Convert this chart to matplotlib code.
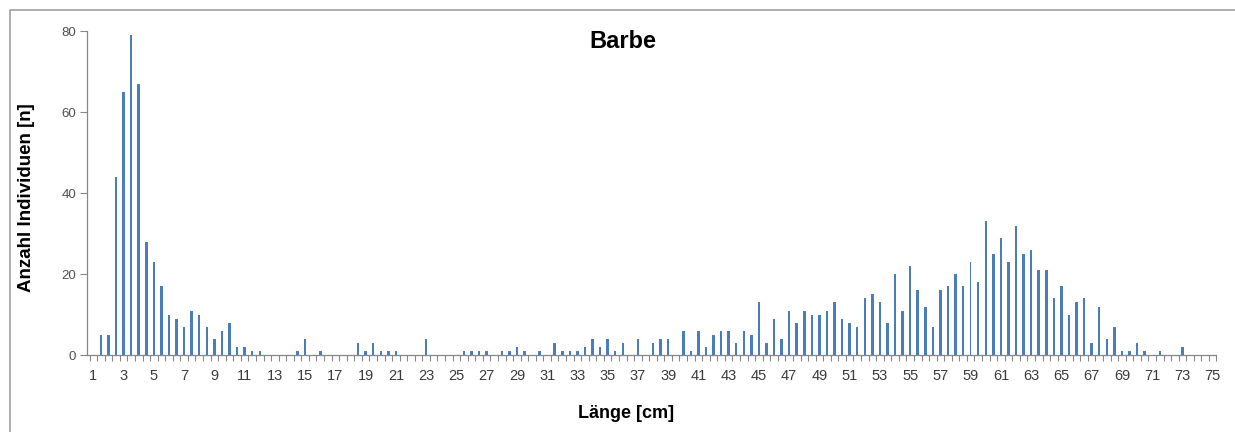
import numpy as np
import matplotlib.pyplot as plt
from matplotlib.patches import Rectangle

# Length classes (cm, half-cm steps) that have at least one fish, and the counts
length_cm = [1.5, 2, 2.5, 3, 3.5, 4, 4.5, 5, 5.5, 6, 6.5, 7, 7.5, 8, 8.5, 9, 9.5, 10,
             10.5, 11, 11.5, 12,
             14.5, 15, 16,
             18.5, 19, 19.5, 20, 20.5, 21,
             23,
             25.5, 26, 26.5, 27, 28, 28.5, 29, 29.5, 30.5, 31.5, 32, 32.5, 33, 33.5,
             34, 34.5, 35, 35.5, 36, 37, 38, 38.5, 39, 40, 40.5, 41, 41.5, 42, 42.5,
             43, 43.5, 44, 44.5, 45, 45.5, 46, 46.5, 47, 47.5, 48, 48.5, 49, 49.5,
             50, 50.5, 51, 51.5, 52, 52.5, 53, 53.5, 54, 54.5, 55, 55.5, 56, 56.5,
             57, 57.5, 58, 58.5, 59, 59.5, 60, 60.5, 61, 61.5, 62, 62.5, 63, 63.5,
             64, 64.5, 65, 65.5, 66, 66.5, 67, 67.5, 68, 68.5, 69, 69.5, 70, 70.5,
             71.5, 73]
count = [5, 5, 44, 65, 79, 67, 28, 23, 17, 10, 9, 7, 11, 10, 7, 4, 6, 8,
         2, 2, 1, 1,
         1, 4, 1,
         3, 1, 3, 1, 1, 1,
         4,
         1, 1, 1, 1, 1, 1, 2, 1, 1, 3, 1, 1, 1, 2,
         4, 2, 4, 1, 3, 4, 3, 4, 4, 6, 1, 6, 2, 5, 6,
         6, 3, 6, 5, 13, 3, 9, 4, 11, 8, 11, 10, 10, 11,
         13, 9, 8, 7, 14, 15, 13, 8, 20, 11, 22, 16, 12, 7,
         16, 17, 20, 17, 23, 18, 33, 25, 29, 23, 32, 25, 26, 21,
         21, 14, 17, 10, 13, 14, 3, 12, 4, 7, 1, 1, 3, 1,
         1, 2]

x_min, x_max = 1, 75          # first and last length class on the axis
tick_labels = [str(v) for v in range(1, 76, 2)]
y_ticks = [0, 20, 40, 60, 80]

bar_color = "#4a7ebb"
axis_gray = "#868686"
font = ["Liberation Sans", "DejaVu Sans"]
plt.rcParams["font.family"] = font

fig = plt.figure(figsize=(12.35, 4.32), dpi=100)
ax = fig.add_axes([0.0707, 0.178, 0.985 - 0.0707, 0.928 - 0.178])

# category index of each length class (0 = 1.0 cm, 1 = 1.5 cm, ...)
pos = [(l - x_min) * 2 for l in length_cm]
widths = [0.1 if l == 59 else 0.33 for l in length_cm]
ax.bar(pos, count, width=widths, color=bar_color, linewidth=0)

n_cat = int((x_max - x_min) * 2) + 1
ax.set_xlim(-0.8, n_cat - 0.5)
ax.set_ylim(0, 80)

# tick marks between categories, labels on every second cm
ax.set_xticks(np.arange(-0.5, n_cat, 1.0), minor=True)
ax.set_xticks(np.arange(0, n_cat, 4))
ax.set_xticklabels(tick_labels)
ax.tick_params(axis="x", which="major", length=0, pad=10, labelsize=10.5,
               labelcolor="#3a3a3a")
ax.tick_params(axis="x", which="minor", length=4, width=0.8, color=axis_gray)
ax.set_yticks(y_ticks)
ax.tick_params(axis="y", length=5, width=0.8, color=axis_gray, labelsize=9.5,
               labelcolor="#505050", pad=3)

for side in ["top", "right"]:
    ax.spines[side].set_visible(False)
for side in ["left", "bottom"]:
    ax.spines[side].set_color(axis_gray)
    ax.spines[side].set_linewidth(0.9)

fig.text(623 / 1235, 1 - 41 / 432, "Barbe", ha="center", va="center",
         fontsize=17, fontweight="bold")
fig.text(626 / 1235, 1 - 413 / 432, "Länge [cm]", ha="center", va="center",
         fontsize=13, fontweight="bold")
fig.text(27 / 1235, 1 - 198 / 432, "Anzahl Individuen [n]", ha="center",
         va="center", rotation=90, fontsize=13.5, fontweight="bold")

# chart frame
fig.patches.append(Rectangle((10 / 1235, -0.1), 1.2, 1 - 10 / 432 + 0.1,
                             transform=fig.transFigure, fill=False,
                             edgecolor="#a0a0a0", linewidth=1.2, zorder=-1))

fig.savefig("out.png", dpi=100)
